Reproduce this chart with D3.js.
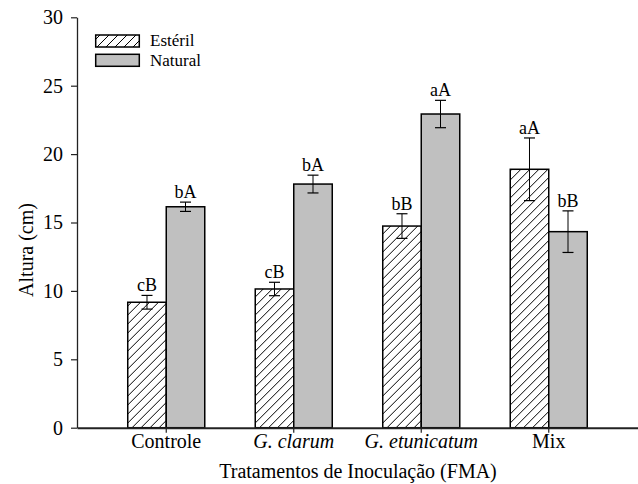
<!DOCTYPE html>
<html>
<head>
<meta charset="utf-8">
<script src="https://cdn.jsdelivr.net/npm/d3@7/dist/d3.min.js"></script>
<style>
  html, body { margin: 0; padding: 0; background: #fff; }
  svg { display: block; }
  text { font-family: "Liberation Serif", "Times New Roman", serif; fill: #000; }
</style>
</head>
<body>
<svg id="chart" width="638" height="484"></svg>
<script>
const categories = ["Controle", "G. clarum", "G. etunicatum", "Mix"];
const italicCats = [false, true, true, false];
const seriesNames = ["Estéril", "Natural"];
const esteril = [9.17, 10.14, 14.74, 18.89];
const esterilErr = [0.5, 0.49, 0.9, 2.29];
const natural = [16.15, 17.81, 22.93, 14.33];
const naturalErr = [0.34, 0.65, 1.0, 1.52];
const esterilLetters = ["cB", "cB", "bB", "aA"];
const naturalLetters = ["bA", "bA", "aA", "bB"];
const yTicks = [0, 5, 10, 15, 20, 25, 30];

const svg = d3.select("#chart");
const x0 = 77, x1 = 638, yBottom = 427.7, yTop = 17.3;

const defs = svg.append("defs");
const pat = defs.append("pattern")
  .attr("id", "hatch").attr("patternUnits", "userSpaceOnUse")
  .attr("width", 9).attr("height", 9);
pat.append("path")
  .attr("d", "M0,9 L9,0 M-2,2 L2,-2 M7,11 L11,7")
  .attr("stroke", "#000").attr("stroke-width", 1);

const x = d3.scaleBand().domain(categories).range([x0, x1])
  .paddingInner(0.396).paddingOuter(0.398);
const xs = d3.scaleBand().domain(seriesNames).range([0, x.bandwidth()]).padding(0);
const y = d3.scaleLinear().domain([0, 30]).range([yBottom, yTop]);

const rows = categories.map((c, i) => ({
  cat: c,
  vals: [
    {s: "Estéril", v: esteril[i], e: esterilErr[i], l: esterilLetters[i]},
    {s: "Natural", v: natural[i], e: naturalErr[i], l: naturalLetters[i]}
  ]
}));

const g = svg.append("g");
const groups = g.selectAll("g.cat").data(rows).join("g")
  .attr("transform", d => `translate(${x(d.cat)},0)`);

groups.selectAll("rect").data(d => d.vals).join("rect")
  .attr("x", d => xs(d.s))
  .attr("y", d => y(d.v))
  .attr("width", xs.bandwidth())
  .attr("height", d => y(0) - y(d.v))
  .attr("fill", d => d.s === "Estéril" ? "url(#hatch)" : "#c0c0c0")
  .attr("stroke", "#000").attr("stroke-width", 1.5);

const capW = 11;
groups.each(function(d) {
  const gg = d3.select(this);
  d.vals.forEach(v => {
    const cx = xs(v.s) + xs.bandwidth() / 2;
    gg.append("line").attr("x1", cx).attr("x2", cx)
      .attr("y1", y(v.v + v.e)).attr("y2", y(v.v - v.e))
      .attr("stroke", "#000").attr("stroke-width", 1);
    [v.v + v.e, v.v - v.e].forEach(t => {
      gg.append("line").attr("x1", cx - capW / 2).attr("x2", cx + capW / 2)
        .attr("y1", y(t)).attr("y2", y(t))
        .attr("stroke", "#000").attr("stroke-width", 1.2);
    });
    gg.append("text").attr("x", cx).attr("y", y(v.v + v.e) - 4)
      .attr("text-anchor", "middle").attr("font-size", 18).text(v.l);
  });
});

// Y axis
const yAxis = svg.append("g").attr("transform", `translate(${x0},0)`)
  .call(d3.axisLeft(y).tickValues(yTicks).tickSize(6).tickSizeOuter(0).tickPadding(8).tickFormat(d3.format("d")));
yAxis.select(".domain").attr("stroke", "#222").attr("stroke-width", 1.3);
yAxis.selectAll(".tick line").attr("stroke", "#222").attr("stroke-width", 1.2);
yAxis.selectAll(".tick text").attr("font-size", 20)
  .attr("font-family", '"Liberation Serif", "Times New Roman", serif').attr("fill", "#000");

// X axis
const xAxis = svg.append("g").attr("transform", `translate(0,${yBottom})`)
  .call(d3.axisBottom(x).tickSize(5).tickSizeOuter(0));
xAxis.select(".domain").attr("stroke", "#222").attr("stroke-width", 2);
xAxis.selectAll(".tick line").attr("stroke", "#222").attr("stroke-width", 1.2);
xAxis.selectAll(".tick text")
  .attr("font-size", 20).attr("dy", null).attr("y", 20.5)
  .attr("font-family", '"Liberation Serif", "Times New Roman", serif').attr("fill", "#000")
  .attr("font-style", (d, i) => italicCats[i] ? "italic" : "normal");

// Axis titles
svg.append("text").attr("x", (x0 + x1) / 2 + 0.5).attr("y", 478)
  .attr("text-anchor", "middle").attr("font-size", 20)
  .text("Tratamentos de Inoculação (FMA)");
svg.append("text").attr("transform", "translate(33,250) rotate(-90)")
  .attr("text-anchor", "middle").attr("font-size", 20)
  .text("Altura (cm)");

// Legend
const legend = svg.append("g");
seriesNames.forEach((s, i) => {
  legend.append("rect").attr("x", 95.7).attr("y", 35 + i * 19.3)
    .attr("width", 43.6).attr("height", 12)
    .attr("fill", s === "Estéril" ? "url(#hatch)" : "#c0c0c0")
    .attr("stroke", "#000").attr("stroke-width", 1.5);
  legend.append("text").attr("x", 150).attr("y", 46 + i * 20)
    .attr("font-size", 17).text(s);
});
</script>
</body>
</html>
